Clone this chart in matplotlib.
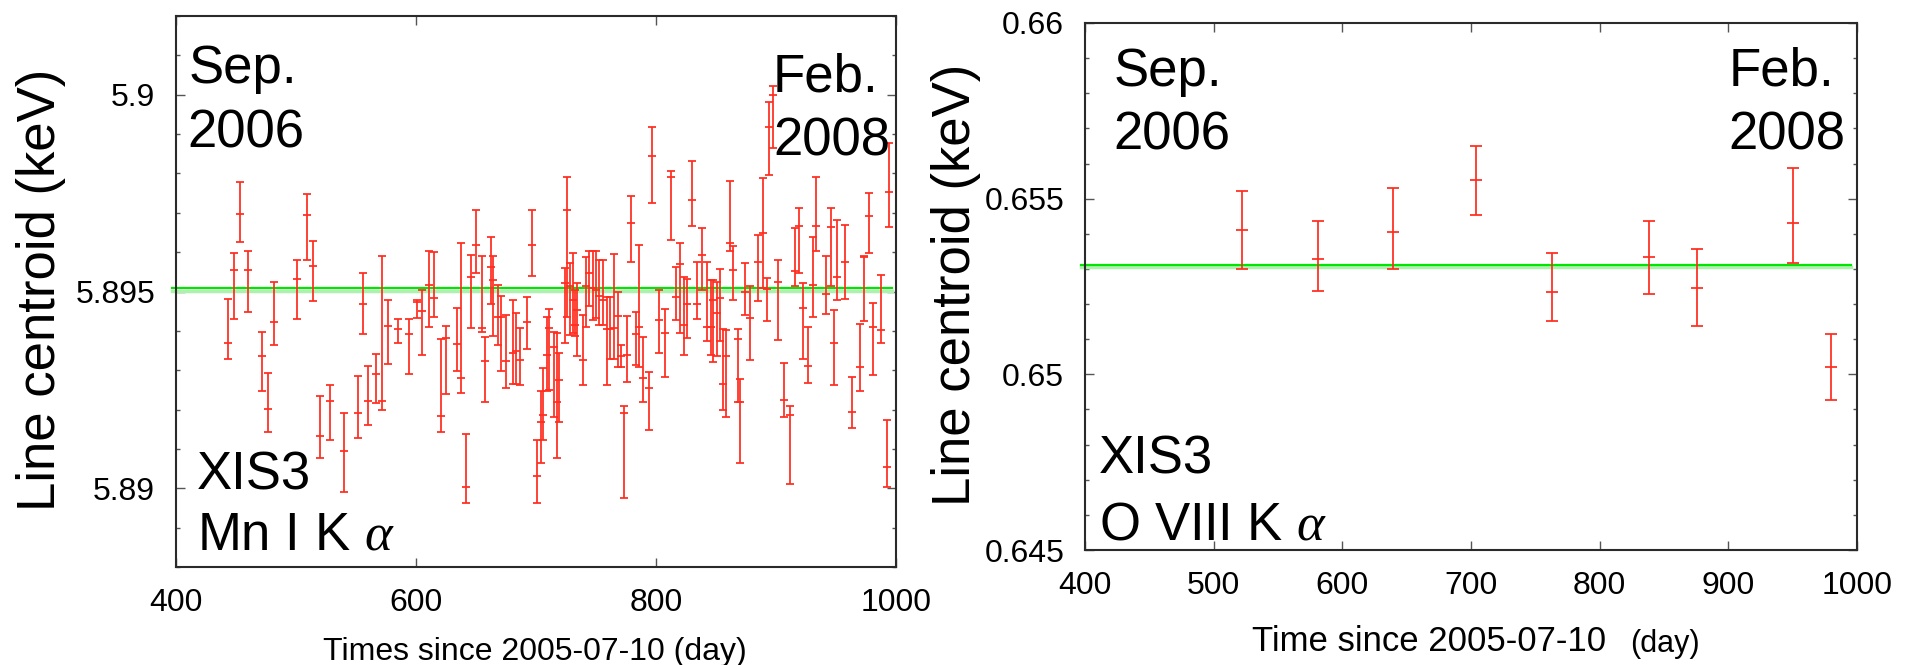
import matplotlib.pyplot as plt
from matplotlib.ticker import MultipleLocator, FixedLocator, FormatStrFormatter

plt.rcParams['font.family'] = ['Liberation Sans', 'DejaVu Sans']
plt.rcParams['mathtext.fontset'] = 'custom'
plt.rcParams['mathtext.rm'] = 'Liberation Sans'
plt.rcParams['mathtext.it'] = 'Liberation Serif:italic'

RED = '#ff2d1f'
GREEN = '#00e600'

# XIS3 Mn I K-alpha line centroid (keV), days since 2005-07-10
mn_day = [443.1, 448.3, 453.6, 459.7, 471.4, 477.0, 481.9, 500.6, 509.4, 514.4,
          520.3, 528.3, 540.0, 551.9, 555.6, 560.3, 566.4, 571.4, 576.9, 584.7,
          593.9, 600.6, 605.3, 610.6, 614.7, 620.6, 625.0, 633.9, 637.5, 641.7,
          645.6, 650.0, 654.7, 657.8, 662.2, 663.9, 668.6, 670.6, 674.7, 681.1,
          683.1, 686.7, 692.8, 696.4, 701.1, 703.9, 706.1, 708.9, 710.8, 715.0,
          717.8, 719.4, 724.2, 726.1, 728.3, 730.6, 732.5, 733.9, 739.4, 741.7,
          744.4, 747.2, 750.0, 752.8, 755.6, 758.9, 761.7, 765.0, 768.6, 770.6,
          773.6, 776.1, 778.9, 783.3, 786.1, 789.4, 794.4, 796.7, 802.2, 807.8,
          812.5, 816.7, 820.0, 823.3, 825.6, 830.3, 833.9, 838.6, 842.2, 845.6,
          847.8, 850.6, 853.3, 856.1, 858.1, 861.7, 864.4, 868.1, 870.0, 874.2,
          878.3, 885.3, 888.9, 892.8, 894.4, 897.2, 901.4, 906.7, 911.7, 915.8,
          919.4, 922.8, 926.9, 931.1, 933.3, 941.7, 945.6, 948.6, 950.6, 957.5,
          963.6, 970.0, 973.6, 977.8, 981.1, 987.2, 992.2, 993.9]
mn_val = [5.89369, 5.89555, 5.89697, 5.89555, 5.89335, 5.89201, 5.89422, 5.89531, 5.89695, 5.89565,
          5.89134, 5.89222, 5.89096, 5.89191, 5.89468, 5.89222, 5.89290, 5.89222, 5.89413, 5.89404,
          5.89392, 5.89473, 5.89451, 5.89517, 5.89483, 5.89184, 5.89381, 5.89366, 5.89280, 5.89002,
          5.89536, 5.89617, 5.89407, 5.89324, 5.89561, 5.89530, 5.89436, 5.89435, 5.89324, 5.89343,
          5.89349, 5.89326, 5.89422, 5.89617, 5.89030, 5.89169, 5.89186, 5.89339, 5.89407, 5.89360,
          5.89220, 5.89275, 5.89521, 5.89708, 5.89513, 5.89479, 5.89415, 5.89453, 5.89326, 5.89514,
          5.89547, 5.89508, 5.89504, 5.89489, 5.89479, 5.89404, 5.89404, 5.89407, 5.89438, 5.89336,
          5.89191, 5.89339, 5.89674, 5.89392, 5.89411, 5.89280, 5.89254, 5.89845, 5.89428, 5.89394,
          5.89792, 5.89486, 5.89570, 5.89415, 5.89469, 5.89733, 5.89469, 5.89593, 5.89411, 5.89411,
          5.89479, 5.89445, 5.89483, 5.89265, 5.89336, 5.89623, 5.89555, 5.89379, 5.89220, 5.89498,
          5.89432, 5.89575, 5.89648, 5.89506, 5.89917, 5.90000, 5.89525, 5.89225, 5.89186, 5.89551,
          5.89667, 5.89458, 5.89311, 5.89517, 5.89667, 5.89493, 5.89665, 5.89369, 5.89536, 5.89576,
          5.89195, 5.89309, 5.89587, 5.89691, 5.89411, 5.89403, 5.89055, 5.89754]
mn_top = [5.89481, 5.89597, 5.89777, 5.89602, 5.89396, 5.89292, 5.89525, 5.89579, 5.89747, 5.89629,
          5.89235, 5.89263, 5.89191, 5.89286, 5.89547, 5.89311, 5.89342, 5.89589, 5.89479, 5.89431,
          5.89431, 5.89479, 5.89504, 5.89602, 5.89600, 5.89379, 5.89413, 5.89457, 5.89623, 5.89137,
          5.89592, 5.89708, 5.89589, 5.89384, 5.89638, 5.89589, 5.89517, 5.89489, 5.89441, 5.89479,
          5.89445, 5.89407, 5.89486, 5.89708, 5.89123, 5.89246, 5.89305, 5.89435, 5.89455, 5.89398,
          5.89394, 5.89343, 5.89559, 5.89792, 5.89572, 5.89597, 5.89504, 5.89521, 5.89441, 5.89587,
          5.89602, 5.89602, 5.89602, 5.89579, 5.89581, 5.89487, 5.89486, 5.89596, 5.89500, 5.89364,
          5.89208, 5.89438, 5.89743, 5.89449, 5.89617, 5.89384, 5.89295, 5.89917, 5.89503, 5.89455,
          5.89805, 5.89562, 5.89623, 5.89538, 5.89531, 5.89832, 5.89576, 5.89661, 5.89576, 5.89530,
          5.89528, 5.89525, 5.89557, 5.89404, 5.89403, 5.89780, 5.89616, 5.89404, 5.89278, 5.89572,
          5.89513, 5.89644, 5.89788, 5.89534, 5.89981, 5.90021, 5.89579, 5.89318, 5.89209, 5.89661,
          5.89712, 5.89521, 5.89411, 5.89638, 5.89792, 5.89591, 5.89712, 5.89453, 5.89682, 5.89670,
          5.89284, 5.89418, 5.89591, 5.89750, 5.89472, 5.89541, 5.89174, 5.89877]
mn_bot = [5.89328, 5.89430, 5.89627, 5.89447, 5.89246, 5.89142, 5.89364, 5.89430, 5.89580, 5.89476,
          5.89076, 5.89123, 5.88991, 5.89127, 5.89392, 5.89161, 5.89216, 5.89199, 5.89316, 5.89369,
          5.89290, 5.89432, 5.89339, 5.89411, 5.89434, 5.89142, 5.89240, 5.89297, 5.89242, 5.88962,
          5.89407, 5.89547, 5.89398, 5.89218, 5.89469, 5.89386, 5.89364, 5.89297, 5.89254, 5.89265,
          5.89265, 5.89263, 5.89353, 5.89540, 5.88962, 5.89064, 5.89123, 5.89246, 5.89250, 5.89182,
          5.89076, 5.89169, 5.89369, 5.89435, 5.89390, 5.89394, 5.89386, 5.89335, 5.89263, 5.89411,
          5.89462, 5.89428, 5.89432, 5.89415, 5.89415, 5.89263, 5.89328, 5.89328, 5.89309, 5.89309,
          5.88975, 5.89271, 5.89576, 5.89314, 5.89308, 5.89220, 5.89147, 5.89725, 5.89345, 5.89284,
          5.89630, 5.89428, 5.89394, 5.89339, 5.89381, 5.89667, 5.89430, 5.89504, 5.89373, 5.89339,
          5.89322, 5.89335, 5.89375, 5.89199, 5.89182, 5.89602, 5.89479, 5.89220, 5.89064, 5.89441,
          5.89326, 5.89477, 5.89508, 5.89424, 5.89797, 5.89864, 5.89377, 5.89181, 5.89010, 5.89513,
          5.89547, 5.89328, 5.89267, 5.89435, 5.89602, 5.89443, 5.89513, 5.89263, 5.89479, 5.89481,
          5.89153, 5.89248, 5.89426, 5.89599, 5.89288, 5.89370, 5.89004, 5.89663]
mn_fit = 5.89508

# XIS3 O VIII K-alpha line centroid (keV)
o_day = [521.8, 581.3, 639.3, 703.6, 763.0, 838.2, 875.3, 950.0, 979.5]
o_val = [0.65412, 0.65329, 0.65404, 0.65552, 0.65235, 0.65333, 0.65245, 0.65431, 0.65020]
o_top = [0.65522, 0.65437, 0.65529, 0.65651, 0.65345, 0.65437, 0.65358, 0.65588, 0.65114]
o_bot = [0.65299, 0.65236, 0.65301, 0.65453, 0.65153, 0.65229, 0.65137, 0.65316, 0.64928]
o_fit = 0.65312

W, H = 1919, 665
fig = plt.figure(figsize=(W / 100, H / 100), dpi=100)


def px_axes(x0, y0, x1, y1):
    return fig.add_axes([x0 / W, 1 - y1 / H, (x1 - x0) / W, (y1 - y0) / H])


def style(ax):
    for s in ax.spines.values():
        s.set_color('#2a2a2a')
        s.set_linewidth(1.5)
    ax.tick_params(which='both', direction='in', top=True, right=True,
                   colors='#555555', labelcolor='black', labelsize=23, pad=15)
    ax.tick_params(which='major', length=6.5, width=1)
    ax.tick_params(which='minor', length=3, width=1)
    ax.xaxis.set_minor_locator(FixedLocator([]))
    ax.yaxis.set_minor_locator(MultipleLocator(0.001))
    ax.yaxis.set_major_formatter(FormatStrFormatter('%g'))


def draw(ax, day, val, top, bot, fit, xr, cap):
    lo = [v - b for v, b in zip(val, bot)]
    hi = [t - v for t, v in zip(top, val)]
    ax.errorbar(day, val, yerr=[lo, hi], fmt='_', color=RED, ms=2 * cap,
                mew=1.4, elinewidth=1.4, capsize=cap, capthick=1.4, alpha=0.9, zorder=3)
    ax.plot(xr, [fit - 0.00007, fit - 0.00007], color='#aef0ae', lw=2.5, clip_on=False, zorder=2)
    ax.plot(xr, [fit, fit], color=GREEN, lw=1.6, clip_on=False, zorder=2)


def label(ax, x, y, s, size=38):
    ax.text(x / W, 1 - y / H, s, transform=fig.transFigure, fontsize=size,
            ha='left', va='top')


# left panel
ax1 = px_axes(176, 16, 896, 567)
draw(ax1, mn_day, mn_val, mn_top, mn_bot, mn_fit, [397, 997], 3)
ax1.set_xlim(400, 1000)
ax1.set_ylim(5.888, 5.902)
ax1.xaxis.set_major_locator(FixedLocator([400, 600, 800, 1000]))
ax1.yaxis.set_major_locator(FixedLocator([5.89, 5.895, 5.9]))
style(ax1)
fig.text(55 / W, 1 - 290 / H, 'Line centroid (keV)', rotation=90, rotation_mode='anchor',
         ha='center', va='baseline', fontsize=38)
fig.text(535 / W, 1 - 660 / H, 'Times since 2005-07-10 (day)', ha='center', va='baseline',
         fontsize=23)
label(ax1, 189, 44, 'Sep.')
label(ax1, 187, 108, '2006')
label(ax1, 773, 53, 'Feb.')
label(ax1, 773, 117, '2008')
label(ax1, 197, 450, 'XIS3')
label(ax1, 197, 511, r'Mn I K $\alpha$')

# right panel
ax2 = px_axes(1085, 23, 1857, 550)
draw(ax2, o_day, o_val, o_top, o_bot, o_fit, [397, 995], 4)
ax2.set_xlim(400, 1000)
ax2.set_ylim(0.645, 0.66)
ax2.xaxis.set_major_locator(MultipleLocator(100))
ax2.yaxis.set_major_locator(MultipleLocator(0.005))
style(ax2)
fig.text(970 / W, 1 - 285 / H, 'Line centroid (keV)', rotation=90, rotation_mode='anchor',
         ha='center', va='baseline', fontsize=38)
fig.text(1252 / W, 1 - 651 / H, 'Time since 2005-07-10', ha='left', va='baseline', fontsize=25)
fig.text(1630 / W, 1 - 652 / H, '(day)', ha='left', va='baseline', fontsize=22)
label(ax2, 1114, 47, 'Sep.')
label(ax2, 1113, 111, '2006')
label(ax2, 1729, 47, 'Feb.')
label(ax2, 1728, 111, '2008')
label(ax2, 1099, 435, 'XIS3')
label(ax2, 1099, 500, r'O VIII K $\alpha$')

fig.savefig('out.png', dpi=100)
